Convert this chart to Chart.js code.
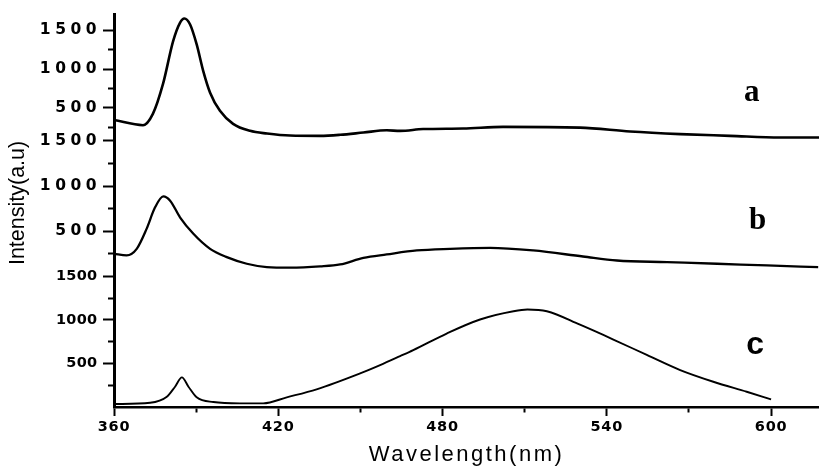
<!DOCTYPE html>
<html><head><meta charset="utf-8">
<script src="https://cdn.jsdelivr.net/npm/chart.js@4.4.1/dist/chart.umd.min.js"></script>
<style>html,body{margin:0;padding:0;background:#fff;}canvas{display:block;}</style>
</head><body>
<canvas id="c" width="819" height="472"></canvas>
<script>
// ---- data ----
const wavelengthA = [360, 370.6, 374.2, 377.9, 381.6, 384.1, 385.7, 387.8, 390.2, 392.6, 395.1, 398.7, 403.5, 409.7, 415.9, 424.3, 435.3, 442.6, 451.1, 459.6, 464.5, 472.9, 487.5, 502.1, 530.2, 548.5, 566.8, 585.0, 603.3, 617.5];
const intensityA  = [345, 278, 423, 808, 1359, 1594, 1650, 1573, 1317, 974, 696, 462, 295, 205, 171, 145, 141, 154, 183, 212, 205, 228, 235, 256, 247, 196, 163, 141, 119, 119];

const wavelengthB = [360, 364.6, 368.3, 371.9, 375.0, 378.0, 380.5, 384.1, 389.0, 395.1, 401.2, 408.5, 415.8, 424.3, 435.3, 442.6, 451.1, 459.6, 470.6, 482.7, 497.4, 513.1, 531.3, 543.7, 562.0, 580.3, 598.5, 617.2];
const intensityB  = [250, 232, 305, 526, 764, 885, 838, 654, 471, 305, 213, 140, 103, 96, 110, 132, 205, 243, 287, 305, 316, 287, 220, 176, 158, 140, 121, 103];

const wavelengthC = [360, 373.2, 379.3, 382.3, 384.8, 387.2, 390.2, 396.3, 406.0, 414.5, 423.1, 434.0, 449.9, 457.2, 464.5, 469.3, 481.5, 493.7, 505.9, 511.0, 518.1, 530.2, 542.4, 554.6, 566.8, 578.9, 591.1, 600];
const intensityC  = [34, 49, 118, 233, 340, 233, 111, 57, 42, 42, 111, 203, 386, 481, 584, 653, 844, 1005, 1100, 1120, 1100, 945, 775, 598, 424, 290, 175, 88];

const yMajorTicks = [500, 1000, 1500];
const yMinorTicks = [250, 750, 1250];
const xMajorTicks = [360, 420, 480, 540, 600];
const xMinorTicks = [390, 450, 510, 570];

const panelLabels = ['a', 'b', 'c'];
const panelLabelWavelength = [592.9, 595.1, 594.2];
const panelLabelIntensity = [590, 529, 607];

// ---- styling helpers ----
const labelSpacing = {x: 0.8, yA: 4.5, yB: 4.5, yC: 0.3};
const titleSpacing = {x: 2.5};

class SpacedLinearScale extends Chart.LinearScale {
  drawLabels(area) {
    const ctx = this.ctx; ctx.save();
    ctx.letterSpacing = (labelSpacing[this.id] || 0) + 'px';
    super.drawLabels(area); ctx.restore();
  }
  drawTitle() {
    const ctx = this.ctx; ctx.save();
    ctx.letterSpacing = (titleSpacing[this.id] || 0) + 'px';
    super.drawTitle(); ctx.restore();
  }
}
SpacedLinearScale.id = 'spacedLinear';
SpacedLinearScale.defaults = Chart.LinearScale.defaults;
Chart.register(SpacedLinearScale);

const pts = (xs, ys) => xs.map((x, i) => ({x: x, y: ys[i]}));

function yTicks(scale) {
  scale.ticks = [...yMajorTicks, ...yMinorTicks]
    .filter(v => v >= scale.min && v <= scale.max)
    .sort((a, b) => a - b).map(v => ({value: v}));
}

function yAxis(min, max, weight, stackWeight, fontSize, pad, extra) {
  return Object.assign({
    type: 'spacedLinear', position: 'left', stack: 'panels', stackWeight: stackWeight, weight: weight,
    min: min, max: max,
    afterBuildTicks: yTicks,
    afterFit: s => { s.width = 114; },
    border: {display: true, color: '#000', width: 3},
    grid: {display: true, drawOnChartArea: false, drawTicks: true, tickLength: 11, tickColor: '#000', tickWidth: 2,
      tickBorderDash: c => (c.tick && yMinorTicks.includes(c.tick.value)) ? [0, 5, 40] : []},
    ticks: {autoSkip: false, color: '#000', padding: pad,
      font: {family: 'DejaVu Sans', weight: 'bold', size: fontSize},
      callback: v => yMajorTicks.includes(v) ? String(v) : ''}
  }, extra || {});
}

const panelLabelPlugin = {
  id: 'panelLabels',
  afterDatasetsDraw(chart) {
    const ctx = chart.ctx; const ids = ['yA', 'yB', 'yC'];
    ctx.save();
    ctx.fillStyle = '#000'; ctx.textAlign = 'center'; ctx.textBaseline = 'alphabetic';
    panelLabels.forEach((t, i) => {
      ctx.font = i < 2 ? 'bold 31px "Liberation Serif"' : 'bold 32px "Liberation Sans"';
      ctx.fillText(t, chart.scales.x.getPixelForValue(panelLabelWavelength[i]), chart.scales[ids[i]].getPixelForValue(panelLabelIntensity[i]));
    });
    ctx.restore();
  }
};

new Chart(document.getElementById('c'), {
  type: 'line',
  data: {
    datasets: [
      {label: 'a', data: pts(wavelengthA, intensityA), yAxisID: 'yA', borderColor: '#000', borderWidth: 2.6, pointRadius: 0, cubicInterpolationMode: 'monotone', fill: false},
      {label: 'b', data: pts(wavelengthB, intensityB), yAxisID: 'yB', borderColor: '#000', borderWidth: 2.3, pointRadius: 0, cubicInterpolationMode: 'monotone', fill: false},
      {label: 'c', data: pts(wavelengthC, intensityC), yAxisID: 'yC', borderColor: '#000', borderWidth: 1.9, pointRadius: 0, cubicInterpolationMode: 'monotone', fill: false}
    ]
  },
  options: {
    responsive: false, animation: false, devicePixelRatio: 1,
    layout: {padding: {top: 13, left: 0, right: 0, bottom: 0}},
    plugins: {legend: {display: false}, tooltip: {enabled: false}},
    scales: {
      x: {
        type: 'spacedLinear', position: 'bottom', min: 360, max: 617.5,
        afterBuildTicks: s => { s.ticks = [...xMajorTicks, ...xMinorTicks].sort((a, b) => a - b).map(v => ({value: v})); },
        afterFit: s => { s.height = 65; },
        border: {display: true, color: '#000', width: 2.5},
        grid: {display: true, drawOnChartArea: false, drawTicks: true, tickLength: 9, tickColor: '#000', tickWidth: 2,
          tickBorderDash: c => (c.tick && xMinorTicks.includes(c.tick.value)) ? [4, 40] : []},
        ticks: {autoSkip: false, maxRotation: 0, color: '#000', padding: 3,
          font: {family: 'DejaVu Sans', weight: 'bold', size: 14.5},
          callback: v => xMajorTicks.includes(v) ? String(v) : ''},
        title: {display: true, text: 'Wavelength(nm)', color: '#000', padding: {top: 0, bottom: 4},
          font: {family: 'Liberation Sans', size: 22}}
      },
      yA: yAxis(77, 1705, 3, 127, 15.5, 2, undefined),
      yB: yAxis(0, 1500, 2, 136, 15.5, 2, {
        title: {display: true, text: 'Intensity(a.u)', align: 'end', color: '#000', padding: {top: 5, bottom: 0},
          font: {family: 'Liberation Sans', size: 21.5}}
      }),
      yC: yAxis(0, 1500, 1, 131, 14.5, 5.5, undefined)
    }
  },
  plugins: [panelLabelPlugin]
});
</script>
</body></html>
